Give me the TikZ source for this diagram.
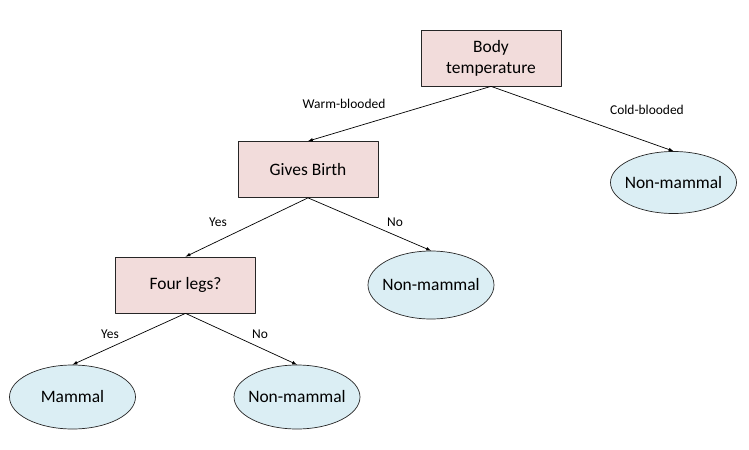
\documentclass[tikz,border=0pt]{standalone}
\usepackage{fontspec}
\setmainfont{Carlito}
\usetikzlibrary{shapes.geometric}
\definecolor{boxfill}{HTML}{F2DCDB}
\definecolor{leaffill}{HTML}{DBEEF4}
\tikzset{
  test/.style={draw=black!85,fill=boxfill,minimum width=140bp,minimum height=56bp,align=center,font=\fontsize{17.5}{21}\selectfont},
  leaf/.style={ellipse,draw=black!85,fill=leaffill,minimum width=126bp,minimum height=62bp,inner xsep=-5bp,inner ysep=0pt,font=\fontsize{17.5}{21}\selectfont},
  lbl/.style={font=\fontsize{13.5}{16}\selectfont},
}
\begin{document}
\begin{tikzpicture}[>=latex,line join=bevel,line width=0.7bp]
%%
\useasboundingbox (0bp,0bp) rectangle (749bp,-450bp);
\node (temp) at (491bp,-58bp) [test] {Body\\temperature};
  \node (birth) at (308bp,-169.5bp) [test] {Gives Birth};
  \node (legs) at (185.5bp,-285bp) [test] {Four legs?};
  \node (cold) at (673.5bp,-182.5bp) [leaf] {Non-mammal};
  \node (nobirth) at (431bp,-285bp) [leaf,minimum height=68bp] {Non-mammal};
  \node (mammal) at (72.5bp,-397bp) [leaf,minimum height=64bp] {Mammal};
  \node (nolegs) at (297bp,-397bp) [leaf,minimum height=64bp] {Non-mammal};
%
  \draw [black,->] (temp.south) -- (birth.north);
  \draw [black,->] (temp.south) -- (cold.north);
  \draw [black,->] (birth.south) -- (legs.north);
  \draw [black,->] (birth.south) -- (nobirth.north);
  \draw [black,->] (legs.south) -- (mammal.north);
  \draw [black,->] (legs.south) -- (nolegs.north);
%
  \node (warm) at (344bp,-104bp) [lbl] {Warm-blooded};
  \node (coldlbl) at (647bp,-110bp) [lbl] {Cold-blooded};
  \node (yes1) at (218bp,-222bp) [lbl] {Yes};
  \node (no1) at (395bp,-222bp) [lbl] {No};
  \node (yes2) at (110bp,-334bp) [lbl] {Yes};
  \node (no2) at (260bp,-334bp) [lbl] {No};
%
\end{tikzpicture}
\end{document}
